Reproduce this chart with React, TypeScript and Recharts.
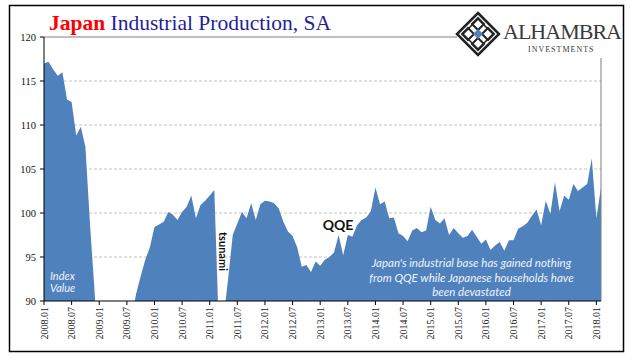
import { Area, AreaChart, CartesianGrid, ReferenceLine, XAxis, YAxis } from 'recharts'

// Japan industrial production index, seasonally adjusted
const ip2008 = [117.0, 117.2, 116.3, 115.6, 116.0, 112.9, 112.6, 108.8, 109.8, 107.5, 98.7, 91.0]
const ip2009 = [82.0, 78.5, 79.5, 83.0, 85.5, 87.0, 87.5, 88.0, 90.8, 92.8, 94.7, 96.1]
const ip2010 = [98.4, 98.7, 99.0, 100.1, 99.8, 99.2, 100.1, 100.7, 102.0, 99.4, 100.9, 101.4]
const ip2011 = [102.0, 102.6, 86.5, 88.0, 92.5, 97.5, 98.8, 100.1, 99.4, 101.1, 99.2, 101.0]
const ip2012 = [101.4, 101.3, 101.1, 100.5, 99.0, 97.9, 97.4, 96.1, 93.9, 94.1, 93.3, 94.5]
const ip2013 = [94.0, 94.7, 95.0, 95.5, 97.5, 95.2, 97.5, 97.3, 98.6, 99.2, 99.5, 100.2]
const ip2014 = [102.9, 101.0, 101.3, 99.4, 99.5, 97.7, 97.4, 96.8, 98.0, 98.3, 97.8, 98.0]
const ip2015 = [100.7, 99.2, 98.8, 99.4, 97.5, 98.3, 97.7, 97.2, 97.4, 98.1, 97.3, 96.5]
const ip2016 = [97.0, 95.8, 96.3, 96.7, 95.7, 96.9, 96.9, 98.2, 98.5, 98.9, 99.7, 100.4]
const ip2017 = [98.6, 101.4, 99.9, 103.5, 100.2, 102.0, 101.5, 103.3, 102.5, 102.9, 103.3, 106.2]
const ip2018 = [99.4, 102.9]

const years = [2008, 2009, 2010, 2011, 2012, 2013, 2014, 2015, 2016, 2017, 2018]
const yearValues = [ip2008, ip2009, ip2010, ip2011, ip2012, ip2013, ip2014, ip2015, ip2016, ip2017, ip2018]

const yTicks = [90, 95, 100, 105, 110, 115, 120]
const gridValues = [95, 100, 105, 110, 115]

const data = yearValues.flatMap((vals, yi) =>
  vals.map((value, m) => ({ label: `${years[yi]}.${String(m + 1).padStart(2, '0')}`, value })),
)
const lastLabel = data[data.length - 1].label

const FILL = '#4f81bd'
const SERIF = '"Liberation Serif", "Times New Roman", serif'
const SANS = 'Lato, "Open Sans", sans-serif'

const MonthTick = ({ x, y, payload }: any) => (
  <text transform={`translate(${x + 3.5},${y}) rotate(-90)`} textAnchor="end" fontSize={10} fontFamily={SERIF} fill="#222">
    {payload.value}
  </text>
)

function Logo() {
  const cx = 478
  const cy = 34
  const d = (r: number, ox = 0, oy = 0) => `M${cx + ox},${cy + oy - r} L${cx + ox + r},${cy + oy} L${cx + ox},${cy + oy + r} L${cx + ox - r},${cy + oy} Z`
  return (
    <g>
      <rect x={457} y={6} width={166} height={52} fill="#fff" />
      <path d={d(21)} fill="none" stroke="#222" strokeWidth={2.5} />
      <path d={d(15)} fill="none" stroke="#222" strokeWidth={1.5} />
      <path d={d(6, 0, -10)} fill="none" stroke="#222" strokeWidth={2} />
      <path d={d(6, 0, 10)} fill="none" stroke="#222" strokeWidth={2} />
      <path d={d(6, -10, 0)} fill="none" stroke="#222" strokeWidth={2} />
      <path d={d(6, 10, 0)} fill="none" stroke="#222" strokeWidth={2} />
      <path d={d(5)} fill={FILL} />
      <text x={503} y={39} fontSize={22} fontFamily={SERIF} fill="#3a3a3a" textLength={119}>
        ALHAMBRA
      </text>
      <text x={528} y={52} fontSize={8} fontFamily={SERIF} fill="#3a3a3a" letterSpacing={1}>
        INVESTMENTS
      </text>
    </g>
  )
}

export default function App() {
  return (
    <div style={{ position: 'relative', width: 640, height: 360, background: '#fff' }}>
      <style>{'body{margin:0}'}</style>
      <AreaChart width={640} height={360} data={data} margin={{ top: 37, right: 39, bottom: 0, left: 0 }}>
        <CartesianGrid vertical={false} horizontalValues={gridValues} stroke="#c4c4c4" strokeDasharray="3 2" />
        <XAxis
          dataKey="label"
          interval={5}
          height={59}
          tick={<MonthTick />}
          tickSize={4}
          tickMargin={2}
          axisLine={{ stroke: '#000' }}
          tickLine={{ stroke: '#000' }}
        />
        <YAxis
          domain={[90, 120]}
          ticks={yTicks}
          allowDataOverflow
          width={44}
          tickSize={4}
          tickMargin={4}
          tick={{ fontSize: 10.5, fill: '#111', fontFamily: SERIF }}
          axisLine={{ stroke: '#000' }}
          tickLine={{ stroke: '#000' }}
        />
        <Area type="linear" dataKey="value" stroke="none" fill={FILL} fillOpacity={1} isAnimationActive={false} />
        <ReferenceLine y={120} stroke="#7f7f7f" />
        <ReferenceLine x={lastLabel} stroke="#7f7f7f" />
      </AreaChart>
      <svg width={640} height={360} style={{ position: 'absolute', left: 0, top: 0, pointerEvents: 'none' }}>
        <Logo />
        <rect x={9.5} y={5.5} width={614} height={346} fill="none" stroke="#000" strokeWidth={1.5} />
        <text x={49} y={30} fontSize={21.5} fontFamily={SERIF}>
          <tspan fill="#ff0000" fontWeight="bold">Japan</tspan>
          <tspan fill="#1f1f99"> Industrial Production, SA</tspan>
        </text>
        <text fontSize={11} fontStyle="italic" fontFamily={SANS} fill="#eef3fa">
          <tspan x={50} y={280}>Index</tspan>
          <tspan x={50} y={292}>Value</tspan>
        </text>
        <text transform="translate(219,232) rotate(90)" fontSize={11} fontWeight="bold" fontFamily={SANS} fill="#111">
          tsunami
        </text>
        <text x={338} y={230} textAnchor="middle" fontSize={14} fontWeight="bold" fontFamily={SANS} fill="#111">
          QQE
        </text>
        <text textAnchor="middle" fontSize={11.5} fontStyle="italic" fontFamily={SANS} fill="#eef3fa">
          <tspan x={471.5} y={267}>Japan's industrial base has gained nothing</tspan>
          <tspan x={471.5} y={281.5}>from QQE while Japanese households have</tspan>
          <tspan x={471.5} y={296}>been devastated</tspan>
        </text>
      </svg>
    </div>
  )
}
